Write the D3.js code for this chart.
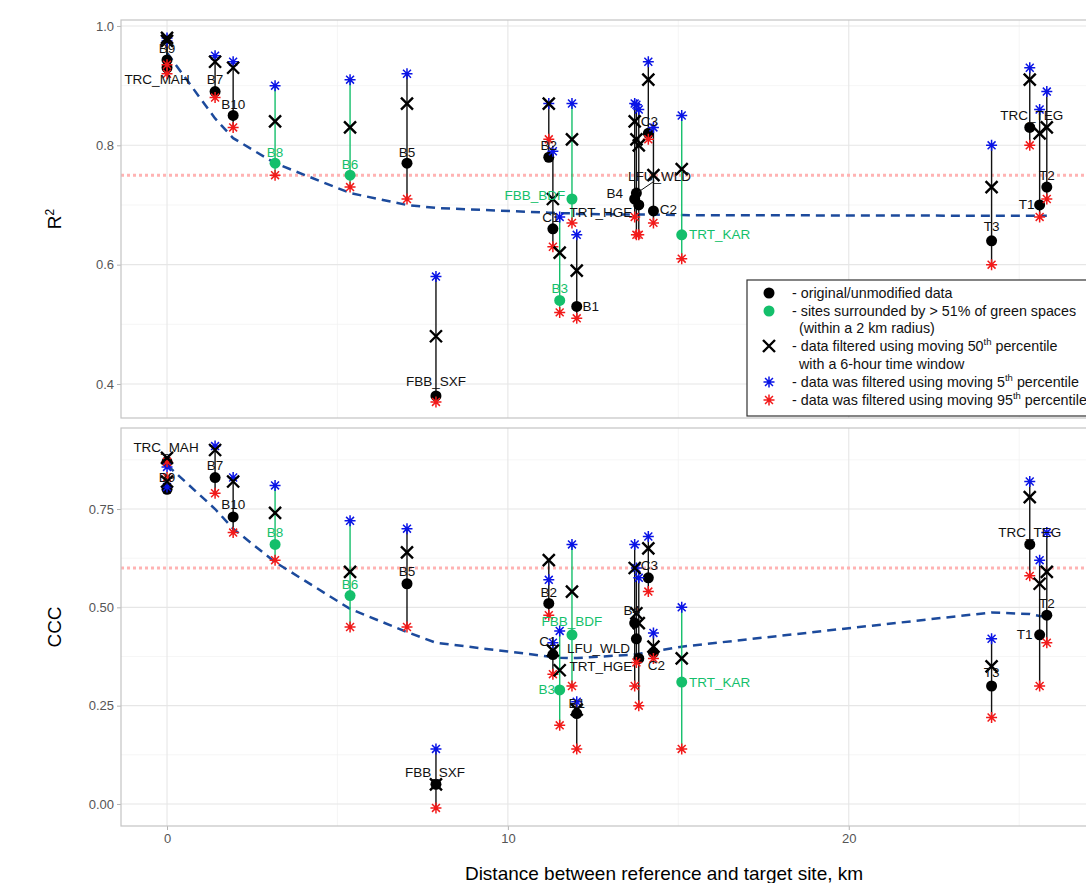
<!DOCTYPE html>
<html>
<head>
<meta charset="utf-8">
<script src="https://cdn.jsdelivr.net/npm/d3@7"></script>
<style>
  body { margin: 0; background: #fff; }
  text { font-family: "Liberation Sans", Arial, sans-serif; }
</style>
</head>
<body>
<div id="chart"></div>
<script>
// sites and distance to the reference site (km)
var sites = ["B9", "TRC_MAH", "B7", "B10", "B8", "B6", "B5", "FBB_SXF", "B2", "C1", "B3", "FBB_BDF", "B1",
             "B4", "LFU_WLD", "TRT_HGE", "C3", "C2", "TRT_KAR", "T3", "TRC_TEG", "T1", "T2"];
var distance = [0, 0, 1.41, 1.94, 3.17, 5.37, 7.04, 7.89, 11.2, 11.32, 11.52, 11.88, 12.02,
                13.72, 13.77, 13.84, 14.12, 14.27, 15.1, 24.19, 25.31, 25.6, 25.81];
// 1 = surrounded by > 51% green spaces
var greenSite = [0, 0, 0, 0, 1, 1, 0, 0, 0, 0, 1, 1, 0, 0, 0, 0, 0, 0, 1, 0, 0, 0, 0];

// R2 values
var r2Orig  = [0.943, 0.93, 0.89, 0.85, 0.77, 0.75, 0.77, 0.38, 0.78, 0.66, 0.54, 0.71, 0.53, 0.71, 0.72, 0.70, 0.82, 0.69, 0.65, 0.64, 0.83, 0.70, 0.73];
var r2P50   = [0.98, 0.975, 0.94, 0.93, 0.84, 0.83, 0.87, 0.48, 0.87, 0.71, 0.62, 0.81, 0.59, 0.84, 0.81, 0.80, 0.91, 0.75, 0.76, 0.73, 0.91, 0.82, 0.83];
var r2P5    = [0.98, 0.975, 0.95, 0.94, 0.90, 0.91, 0.92, 0.58, 0.87, 0.79, 0.68, 0.87, 0.65, 0.87, 0.868, 0.86, 0.94, 0.83, 0.85, 0.80, 0.93, 0.86, 0.89];
var r2P95   = [0.935, 0.92, 0.88, 0.83, 0.75, 0.73, 0.71, 0.37, 0.81, 0.63, 0.52, 0.67, 0.51, 0.68, 0.65, 0.65, 0.81, 0.67, 0.61, 0.60, 0.80, 0.68, 0.71];
var r2Trend = [0.955, 0.955, 0.845, 0.812, 0.77, 0.72, 0.70, 0.695, 0.687, 0.687, 0.686, 0.686, 0.685, 0.684, 0.684, 0.684, 0.684, 0.684, 0.683, 0.682, 0.682, 0.682, 0.682];

// CCC values
var cccOrig  = [0.80, 0.87, 0.83, 0.73, 0.66, 0.53, 0.56, 0.05, 0.51, 0.38, 0.29, 0.43, 0.23, 0.46, 0.42, 0.37, 0.575, 0.385, 0.31, 0.30, 0.66, 0.43, 0.48];
var cccP50   = [0.82, 0.88, 0.90, 0.82, 0.74, 0.59, 0.64, 0.05, 0.62, 0.39, 0.34, 0.54, 0.24, 0.60, 0.485, 0.46, 0.65, 0.40, 0.37, 0.35, 0.78, 0.56, 0.59];
var cccP5    = [0.806, 0.857, 0.91, 0.83, 0.81, 0.72, 0.70, 0.14, 0.57, 0.41, 0.44, 0.66, 0.26, 0.66, 0.60, 0.575, 0.68, 0.435, 0.50, 0.42, 0.82, 0.62, 0.69];
var cccP95   = [0.83, 0.87, 0.79, 0.69, 0.62, 0.45, 0.45, -0.01, 0.48, 0.33, 0.20, 0.30, 0.14, 0.30, 0.36, 0.25, 0.54, 0.37, 0.14, 0.22, 0.58, 0.30, 0.41];
var cccTrend = [0.862, 0.862, 0.75, 0.70, 0.615, 0.496, 0.437, 0.41, 0.375, 0.374, 0.372, 0.371, 0.371, 0.38, 0.381, 0.382, 0.386, 0.388, 0.40, 0.487, 0.483, 0.478, 0.476];

// axis ticks
var xTicks = [0, 10, 20];
var xMinor = [5, 15, 25];
var r2Ticks = [0.4, 0.6, 0.8, 1.0];
var r2Minor = [0.5, 0.7, 0.9];
var cccTicks = [0, 0.25, 0.5, 0.75];
var cccMinor = [0.125, 0.375, 0.625, 0.875];

// label nudges (px) relative to the original point
var r2LabelNudge = {
  B9: [0, -11], TRC_MAH: [-10, 12], B7: [0, -12], B10: [0, -11], B8: [0, -11], B6: [0, -11], B5: [0, -11],
  FBB_SXF: [0, -14], B2: [0, -12], C1: [-2, -11], FBB_BDF: [-37, -4], B3: [0, -12], B1: [14, 0],
  B4: [-20, -6], LFU_WLD: [23, -17], TRT_HGE: [-38, 8], C3: [1, -12], C2: [15, -1], TRT_KAR: [38, 0],
  T3: [0, -14], TRC_TEG: [2, -12], T1: [-13, 0], T2: [0, -12]
};
var cccLabelNudge = {
  B9: [0, -12], TRC_MAH: [-1, -14], B7: [0, -12], B10: [0, -12], B8: [0, -12], B6: [0, -11], B5: [0, -12],
  FBB_SXF: [-1, -12], B2: [0, -11], C1: [-5, -13], FBB_BDF: [0, -13], B3: [-13, 0], B1: [0, -10],
  B4: [-3, -13], LFU_WLD: [-38, 10], TRT_HGE: [-38, 8], C3: [1, -12], C2: [3, 13], TRT_KAR: [38, 0],
  T3: [0, -13], TRC_TEG: [0, -12], T1: [-15, 0], T2: [0, -12]
};

var GREEN = "#14bf6b", BLUE = "#0a14e6", RED = "#f21a1a", TREND = "#1c4a9c";

var width = 1086, height = 883;
var svg = d3.select("#chart").append("svg")
    .attr("width", width)
    .attr("height", height);

var x = d3.scaleLinear().domain([-1.35, 27.4]).range([121, 1101]);

var panels = [
  {top: 20, bottom: 418, domain: [0.343, 1.010], ticks: r2Ticks, minor: r2Minor, fmt: d3.format(".1f"), ref: 0.75,
   orig: r2Orig, p50: r2P50, p5: r2P5, p95: r2P95, trend: r2Trend, nudge: r2LabelNudge, title: "R2"},
  {top: 428, bottom: 826, domain: [-0.056, 0.956], ticks: cccTicks, minor: cccMinor, fmt: d3.format(".2f"), ref: 0.6,
   orig: cccOrig, p50: cccP50, p5: cccP5, p95: cccP95, trend: cccTrend, nudge: cccLabelNudge, title: "CCC"}
];

function asterisk(s) {
  var a = s * 0.72;
  return "M" + (-s) + ",0L" + s + ",0M0," + (-s) + "L0," + s +
         "M" + (-a) + "," + (-a) + "L" + a + "," + a + "M" + (-a) + "," + a + "L" + a + "," + (-a);
}
function cross(s) {
  return "M" + (-s) + "," + (-s) + "L" + s + "," + s + "M" + (-s) + "," + s + "L" + s + "," + (-s);
}

panels.forEach(function(p, pi) {
  var y = d3.scaleLinear().domain(p.domain).range([p.bottom, p.top]);
  var g = svg.append("g");

  // background + grid
  g.append("rect").attr("x", 121).attr("y", p.top).attr("width", 1000).attr("height", p.bottom - p.top)
    .attr("fill", "#fff");
  g.selectAll(".vminor").data(xMinor).enter().append("line")
    .attr("x1", function(d) { return x(d); }).attr("x2", function(d) { return x(d); })
    .attr("y1", p.top).attr("y2", p.bottom)
    .attr("stroke", "#f0f0f0").attr("stroke-width", 0.7);
  g.selectAll(".hminor").data(p.minor).enter().append("line")
    .attr("x1", 121).attr("x2", 1100)
    .attr("y1", function(d) { return y(d); }).attr("y2", function(d) { return y(d); })
    .attr("stroke", "#f0f0f0").attr("stroke-width", 0.7);
  g.selectAll(".vmajor").data(xTicks).enter().append("line")
    .attr("x1", function(d) { return x(d); }).attr("x2", function(d) { return x(d); })
    .attr("y1", p.top).attr("y2", p.bottom)
    .attr("stroke", "#e6e6e6").attr("stroke-width", 1.1);
  g.selectAll(".hmajor").data(p.ticks).enter().append("line")
    .attr("x1", 121).attr("x2", 1100)
    .attr("y1", function(d) { return y(d); }).attr("y2", function(d) { return y(d); })
    .attr("stroke", "#e6e6e6").attr("stroke-width", 1.1);

  // y axis
  var yAxis = d3.axisLeft(y).tickValues(p.ticks).tickFormat(p.fmt).tickSize(4).tickPadding(3);
  var ya = g.append("g").attr("transform", "translate(121,0)").call(yAxis);
  ya.select(".domain").remove();
  ya.selectAll("line").attr("stroke", "#b3b3b3");
  ya.selectAll("text").attr("fill", "#555").style("font-size", "13px");

  // x axis only on the bottom panel
  if (pi === 1) {
    var xAxis = d3.axisBottom(x).tickValues(xTicks).tickFormat(d3.format("d")).tickSize(4).tickPadding(4);
    var xa = g.append("g").attr("transform", "translate(0," + p.bottom + ")").call(xAxis);
    xa.select(".domain").remove();
    xa.selectAll("line").attr("stroke", "#b3b3b3");
    xa.selectAll("text").attr("fill", "#555").style("font-size", "13px");
  }

  // reference threshold
  g.append("line").attr("x1", 121).attr("x2", 1100)
    .attr("y1", y(p.ref)).attr("y2", y(p.ref))
    .attr("stroke", "#ffb3b3").attr("stroke-width", 3).attr("stroke-dasharray", "3,3");

  // trend
  var idx = d3.range(sites.length);
  var line = d3.line()
    .x(function(i) { return x(distance[i]); })
    .y(function(i) { return y(p.trend[i]); });
  g.append("path").datum(idx).attr("d", line)
    .attr("fill", "none").attr("stroke", TREND).attr("stroke-width", 2.5).attr("stroke-dasharray", "9,6");

  // ranges
  g.selectAll(".range").data(idx).enter().append("line")
    .attr("x1", function(i) { return x(distance[i]); }).attr("x2", function(i) { return x(distance[i]); })
    .attr("y1", function(i) { return y(d3.max([p.orig[i], p.p50[i], p.p5[i], p.p95[i]])); })
    .attr("y2", function(i) { return y(d3.min([p.orig[i], p.p50[i], p.p5[i], p.p95[i]])); })
    .attr("stroke", function(i) { return greenSite[i] ? GREEN : "#111"; })
    .attr("stroke-width", 1.4);

  // original points
  g.selectAll(".orig").data(idx).enter().append("circle")
    .attr("cx", function(i) { return x(distance[i]); })
    .attr("cy", function(i) { return y(p.orig[i]); })
    .attr("r", 5.5)
    .attr("fill", function(i) { return greenSite[i] ? GREEN : "#000"; });

  // 5th / 95th percentile
  g.selectAll(".p5").data(idx).enter().append("path")
    .attr("transform", function(i) { return "translate(" + x(distance[i]) + "," + y(p.p5[i]) + ")"; })
    .attr("d", asterisk(5.5)).attr("stroke", BLUE).attr("stroke-width", 1.5).attr("fill", "none");
  g.selectAll(".p95").data(idx).enter().append("path")
    .attr("transform", function(i) { return "translate(" + x(distance[i]) + "," + y(p.p95[i]) + ")"; })
    .attr("d", asterisk(5.5)).attr("stroke", RED).attr("stroke-width", 1.5).attr("fill", "none");

  // 50th percentile
  g.selectAll(".p50").data(idx).enter().append("path")
    .attr("transform", function(i) { return "translate(" + x(distance[i]) + "," + y(p.p50[i]) + ")"; })
    .attr("d", cross(6)).attr("stroke", "#000").attr("stroke-width", 2.4).attr("fill", "none");

  // site labels
  g.selectAll(".lab").data(idx).enter().append("text")
    .attr("x", function(i) { return x(distance[i]) + p.nudge[sites[i]][0]; })
    .attr("y", function(i) { return y(p.orig[i]) + p.nudge[sites[i]][1]; })
    .attr("text-anchor", "middle")
    .attr("dominant-baseline", "central")
    .style("font-size", "13.5px")
    .attr("fill", function(i) { return greenSite[i] ? GREEN : "#111"; })
    .text(function(i) { return sites[i]; });

  if (pi === 0) {
    var k = sites.indexOf("LFU_WLD");
    g.append("line")
      .attr("x1", x(distance[k]) + 18).attr("y1", y(p.orig[k]) - 12)
      .attr("x2", x(distance[k]) + 2).attr("y2", y(p.orig[k]) - 1)
      .attr("stroke", "#111").attr("stroke-width", 1);
  }

  // panel border
  g.append("rect").attr("x", 121).attr("y", p.top).attr("width", 1000).attr("height", p.bottom - p.top)
    .attr("fill", "none").attr("stroke", "#c4c4c4").attr("stroke-width", 1.2);

  // y title
  var t = svg.append("text")
    .attr("transform", "translate(61," + ((p.top + p.bottom) / 2) + ") rotate(-90)")
    .attr("text-anchor", "middle")
    .style("font-size", "19px").attr("fill", "#000");
  if (p.title === "R2") {
    t.append("tspan").text("R");
    t.append("tspan").attr("baseline-shift", "super").style("font-size", "12px").text("2");
  } else {
    t.text(p.title);
  }
});

// x title
svg.append("text").attr("x", 664).attr("y", 880)
  .attr("text-anchor", "middle").style("font-size", "19px")
  .text("Distance between reference and target site, km");

// legend
var leg = svg.append("g");
leg.append("rect").attr("x", 747).attr("y", 280).attr("width", 360).attr("height", 136)
  .attr("fill", "#fff").attr("stroke", "#333").attr("stroke-width", 1.2);

var legRows = [
  {y: 293, sym: "dot", col: "#000", parts: [["- original/unmodified data"]]},
  {y: 311, sym: "dot", col: GREEN, parts: [["- sites surrounded by > 51% of green spaces"]]},
  {y: 328, sym: null, indent: true, parts: [["(within a 2 km radius)"]]},
  {y: 346, sym: "x", col: "#000", parts: [["- data filtered using moving 50"], ["th", true], [" percentile"]]},
  {y: 364, sym: null, indent: true, parts: [["with a 6-hour time window"]]},
  {y: 382, sym: "ast", col: BLUE, parts: [["- data was filtered using moving 5"], ["th", true], [" percentile"]]},
  {y: 400, sym: "ast", col: RED, parts: [["- data was filtered using moving 95"], ["th", true], [" percentile"]]}
];
legRows.forEach(function(r) {
  if (r.sym === "dot") {
    leg.append("circle").attr("cx", 769).attr("cy", r.y).attr("r", 5.5).attr("fill", r.col);
  } else if (r.sym === "x") {
    leg.append("path").attr("transform", "translate(769," + r.y + ")").attr("d", cross(6))
      .attr("stroke", r.col).attr("stroke-width", 2.4).attr("fill", "none");
  } else if (r.sym === "ast") {
    leg.append("path").attr("transform", "translate(769," + r.y + ")").attr("d", asterisk(5.5))
      .attr("stroke", r.col).attr("stroke-width", 1.5).attr("fill", "none");
  }
  var t = leg.append("text").attr("x", r.indent ? 799 : 792).attr("y", r.y)
    .attr("dominant-baseline", "central").style("font-size", "14.3px").attr("fill", "#111");
  r.parts.forEach(function(pt) {
    if (pt[1]) {
      t.append("tspan").attr("dy", -5).style("font-size", "9.5px").text(pt[0]);
    } else {
      var ts = t.append("tspan").text(pt[0]);
      if (t.selectAll("tspan").size() > 1) ts.attr("dy", 5);
    }
  });
});
</script>
</body>
</html>
